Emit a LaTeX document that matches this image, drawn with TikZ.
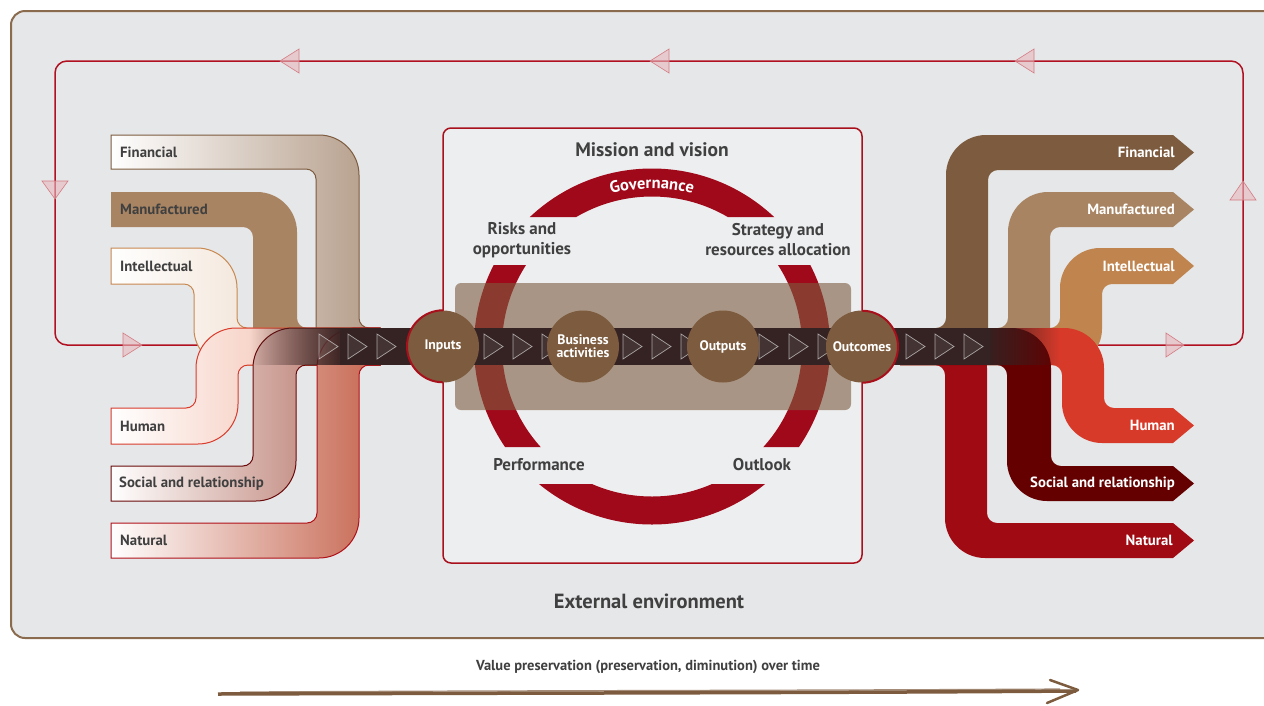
\documentclass[tikz,border=0pt]{standalone}
\usepackage{fontspec}
\setmainfont{PT Sans}
\usetikzlibrary{fadings,decorations.text}
\definecolor{bgframe}{HTML}{E6E7E9}
\definecolor{framebrown}{HTML}{8B6B4E}
\definecolor{boxfill}{HTML}{EDEEF0}
\definecolor{ringred}{HTML}{A0091A}
\definecolor{boxred}{HTML}{A8101C}
\definecolor{loopred}{HTML}{B01020}
\definecolor{circbrown}{HTML}{7D5B3E}
\definecolor{bandcol}{HTML}{352222}
\definecolor{txt}{HTML}{404040}
\definecolor{finLc}{HTML}{B39B87}
\definecolor{finLl}{HTML}{7D5B3E}
\definecolor{manuc}{HTML}{A88462}
\definecolor{intLc}{HTML}{E8CFB8}
\definecolor{intLl}{HTML}{C8884F}
\definecolor{humLc}{HTML}{F0AE98}
\definecolor{humLl}{HTML}{D93A2A}
\definecolor{socLc}{HTML}{AE6658}
\definecolor{socLl}{HTML}{6A0A0A}
\definecolor{natLc}{HTML}{C66650}
\definecolor{natLl}{HTML}{B01018}
\definecolor{finR}{HTML}{7D5B3E}
\definecolor{intR}{HTML}{C0844E}
\definecolor{humR}{HTML}{D83A2A}
\definecolor{socR}{HTML}{640000}
\definecolor{natR}{HTML}{A00A12}
\tikzfading[name=fadein, left color=transparent!100, right color=transparent!0]
\tikzfading[name=fadeout, left color=transparent!0, right color=transparent!100]
\begin{document}
\begin{tikzpicture}[x=1pt,y=-1pt,
  lbl/.style={font=\fontsize{14.8}{17}\selectfont\bfseries, text=txt, inner sep=0, anchor=west},
  rlbl/.style={font=\fontsize{14.8}{17}\selectfont\bfseries, text=white, inner sep=0, anchor=east},
  hd/.style={font=\fontsize{19.5}{22}\selectfont\bfseries, text=txt, inner sep=0},
  sub/.style={font=\fontsize{17}{20}\selectfont\bfseries, text=txt, align=center, inner sep=0},
  stage/.style={circle, fill=circbrown, minimum size=72pt, inner sep=0, text=white, font=\fontsize{13.8}{15}\selectfont\bfseries, align=center},
  looptri/.style={fill=loopred!30, fill opacity=0.6, draw=loopred!55, line width=0.6pt},
  bandtri/.style={draw=white!85!black, draw opacity=0.7, fill=white, fill opacity=0.08, line width=0.7pt},
  capline/.style={line width=1pt}]
\clip (0,0) rectangle (1264,705);
\fill[white] (0,0) rectangle (1264,705);
% outer frame
\draw[framebrown, fill=bgframe, line width=2pt, rounded corners=14pt] (11,11) rectangle (1300,638);
% feedback loop
\coordinate (lpA) at (210,345);
\coordinate (lpB) at (1090,345);
\draw[loopred, line width=1.5pt, rounded corners=12pt] (lpA) -- (55,345) -- (55,61) -- (1243,61) -- (1243,345) -- (lpB);
\path[looptri] (280,61) -- (299,49) -- (299,73) -- cycle;
\path[looptri] (650,61) -- (669,49) -- (669,73) -- cycle;
\path[looptri] (1015,61) -- (1034,49) -- (1034,73) -- cycle;
\path[looptri] (55,199) -- (42,181) -- (68,181) -- cycle;
\path[looptri] (142,345) -- (123,333) -- (123,357) -- cycle;
\path[looptri] (1243,181) -- (1230,200) -- (1256,200) -- cycle;
\path[looptri] (1184,345) -- (1166,333) -- (1166,357) -- cycle;
% centre box
\draw[boxred, fill=boxfill, line width=1.5pt, rounded corners=8pt] (443,128) rectangle (862,563);
% ring
\begin{scope}
\clip (400,160) rectangle (900,217) (400,265) rectangle (900,447) (400,484) rectangle (900,530);
\fill[ringred, even odd rule] (652,346.5) circle (178) (652,346.5) circle (150);
\end{scope}
\path[decorate, decoration={text along path, text={|\fontsize{16.5}{18}\selectfont\bfseries\color{white}|Governance}, text align=center}] (585.1,203.3) arc[start angle=115, end angle=65, radius=158pt];
% brown translucent rect
\fill[circbrown, fill opacity=0.6, rounded corners=6pt] (455,283) rectangle (851,410);
% left capitals
\draw[capline, draw=finLl, left color=white, right color=finLc] (111,135) -- (319,135) .. controls (341,135) and (359,153) .. (359,175) -- (359,318) .. controls (359,323.5) and (363.5,328) .. (369,328) -- (380,328) -- (380,365) -- (352,365) .. controls (332,365) and (316,349) .. (316,329) -- (316,179) .. controls (316,173.5) and (311.5,169) .. (306,169) -- (111,169) -- cycle;
\fill[manuc] (111,192) -- (257,192) .. controls (279,192) and (297,210) .. (297,232) -- (297,318) .. controls (297,323.5) and (301.5,328) .. (307,328) -- (380,328) -- (380,365) -- (289,365) .. controls (269,365) and (253,349) .. (253,329) -- (253,237) .. controls (253,231.5) and (248.5,227) .. (243,227) -- (111,227) -- cycle;
\draw[capline, draw=intLl, left color=white, right color=intLc] (111,248) -- (197,248) .. controls (219,248) and (237,266) .. (237,288) -- (237,318) .. controls (237,323.5) and (241.5,328) .. (247,328) -- (380,328) -- (380,365) -- (230,365) .. controls (210,365) and (194,349) .. (194,329) -- (194,294) .. controls (194,288.5) and (189.5,284) .. (184,284) -- (111,284) -- cycle;
\draw[capline, draw=humLl, left color=white, right color=humLc] (111,408) -- (186,408) .. controls (191.5,408) and (196,403.5) .. (196,398) -- (196,368) .. controls (196,346) and (214,328) .. (236,328) -- (380,328) -- (380,365) -- (248,365) .. controls (242.5,365) and (238,369.5) .. (238,375) -- (238,404) .. controls (238,426) and (220,444) .. (198,444) -- (111,444) -- cycle;
\draw[capline, draw=socLl, left color=white, right color=socLc] (111,466) -- (243,466) .. controls (248.5,466) and (253,461.5) .. (253,456) -- (253,368) .. controls (253,346) and (271,328) .. (293,328) -- (380,328) -- (380,365) -- (306,365) .. controls (300.5,365) and (296,369.5) .. (296,375) -- (296,461) .. controls (296,483) and (278,501) .. (256,501) -- (111,501) -- cycle;
\draw[capline, draw=natLl, left color=white, right color=natLc] (111,523) -- (307,523) .. controls (312.5,523) and (317,518.5) .. (317,513) -- (317,368) .. controls (317,346) and (335,328) .. (357,328) -- (380,328) -- (380,365) -- (369,365) .. controls (363.5,365) and (359,369.5) .. (359,375) -- (359,518) .. controls (359,540) and (341,558) .. (319,558) -- (111,558) -- cycle;
% right capitals
\fill[finR] (900,328) -- (936,328) .. controls (941.5,328) and (946,323.5) .. (946,318) -- (946,175) .. controls (946,153) and (964,135) .. (986,135) -- (1173,135) -- (1194,152.5) -- (1173,170) -- (998,170) .. controls (992.5,170) and (988,174.5) .. (988,180) -- (988,329) .. controls (988,349) and (972,365) .. (952,365) -- (900,365) -- cycle;
\fill[manuc] (900,328) -- (998,328) .. controls (1003.5,328) and (1008,323.5) .. (1008,318) -- (1008,232) .. controls (1008,210) and (1026,192) .. (1048,192) -- (1173,192) -- (1194,209.5) -- (1173,227) -- (1060,227) .. controls (1054.5,227) and (1050,231.5) .. (1050,237) -- (1050,329) .. controls (1050,349) and (1034,365) .. (1014,365) -- (900,365) -- cycle;
\fill[intR] (900,328) -- (1050,328) .. controls (1055.5,328) and (1060,323.5) .. (1060,318) -- (1060,288) .. controls (1060,266) and (1078,248) .. (1100,248) -- (1173,248) -- (1194,266) -- (1173,284) -- (1112,284) .. controls (1106.5,284) and (1102,288.5) .. (1102,294) -- (1102,329) .. controls (1102,349) and (1086,365) .. (1066,365) -- (900,365) -- cycle;
\fill[humR] (900,328) -- (1064,328) .. controls (1086,328) and (1104,346) .. (1104,368) -- (1104,398) .. controls (1104,403.5) and (1108.5,408) .. (1114,408) -- (1173,408) -- (1194,425.5) -- (1173,443) -- (1102,443) .. controls (1080,443) and (1062,425) .. (1062,403) -- (1062,375) .. controls (1062,369.5) and (1057.5,365) .. (1052,365) -- (900,365) -- cycle;
\fill[natR] (900,328) -- (947,328) .. controls (969,328) and (987,346) .. (987,368) -- (987,513) .. controls (987,518.5) and (991.5,523) .. (997,523) -- (1173,523) -- (1194,540.5) -- (1173,558) -- (985,558) .. controls (963,558) and (945,540) .. (945,518) -- (945,375) .. controls (945,369.5) and (940.5,365) .. (935,365) -- (900,365) -- cycle;
\fill[socR] (900,328) -- (1011,328) .. controls (1033,328) and (1051,346) .. (1051,368) -- (1051,456) .. controls (1051,461.5) and (1055.5,466) .. (1061,466) -- (1173,466) -- (1194,483.5) -- (1173,501) -- (1047,501) .. controls (1025,501) and (1007,483) .. (1007,461) -- (1007,375) .. controls (1007,369.5) and (1002.5,365) .. (997,365) -- (900,365) -- cycle;
% central band
\fill[bandcol, path fading=fadein] (250,328) rectangle (345,365);
\fill[bandcol] (340,328) rectangle (990,365);
\fill[bandcol, path fading=fadeout] (985,328) rectangle (1060,365);
\foreach \x in {319,348,377,484,513,542,623,652,681,759,789,818,906,935,964}
  \path[bandtri] (\x,334) -- (\x+19,346.5) -- (\x,359) -- cycle;
% stages
\node[stage] (inp) at (443,346.5) {Inputs};
\node[stage] (bus) at (583,346.5) {Business\\[-2pt]activities};
\node[stage] (outp) at (723,346.5) {Outputs};
\node[stage] (outc) at (862,346.5) {Outcomes};
\draw[boxred, line width=2pt] (inp.north) arc[start angle=90, end angle=270, radius=36pt];
\draw[boxred, line width=2pt] (outc.south) arc[start angle=-90, end angle=90, radius=36pt];
% labels left
\node[lbl] (lfin) at (120,152) {Financial};
\node[lbl] (lman) at (120,209.5) {Manufactured};
\node[lbl] (lint) at (120,266) {Intellectual};
\node[lbl] (lhum) at (120,426) {Human};
\node[lbl] (lsoc) at (119,483.5) {Social and relationship};
\node[lbl] (lnat) at (120,540.5) {Natural};
% labels right
\node[rlbl] (rfin) at (1175,152) {Financial};
\node[rlbl] (rman) at (1175,209.5) {Manufactured};
\node[rlbl] (rint) at (1175,266) {Intellectual};
\node[rlbl] (rhum) at (1175,425.5) {Human};
\node[rlbl] (rsoc) at (1175,483.5) {Social and relationship};
\node[rlbl] (rnat) at (1173,540.5) {Natural};
% centre texts
\node[hd] (mission) at (652,150) {Mission and vision};
\node[sub] (risks) at (522,240) {Risks and\\opportunities};
\node[sub] (strat) at (778,240) {Strategy and\\resources allocation};
\node[sub] (perf) at (539,465) {Performance};
\node[sub] (outl) at (762,465) {Outlook};
\node[font=\fontsize{20.5}{23}\selectfont\bfseries, text=txt, inner sep=0] (extenv) at (649,601) {External environment};
\node[font=\fontsize{14.5}{16}\selectfont\bfseries, text=txt, inner sep=0] (vp) at (648,667) {Value preservation (preservation, diminution) over time};
% bottom arrow
\coordinate (ta) at (218,694);
\coordinate (tb) at (1076,691);
\coordinate (tw1) at (1050,680);
\coordinate (tw2) at (1047,703);
\draw[circbrown, line width=3.5pt] (ta) .. controls (500,693) and (800,693) .. (tb);
\draw[circbrown, line width=1.2pt, opacity=0.7] (240,692) .. controls (500,690.5) and (800,690.5) .. (1060,689);
\draw[circbrown, line width=2.5pt, line cap=round, line join=round] (tw1) -- (1078,690) -- (tw2);
\end{tikzpicture}
\end{document}
